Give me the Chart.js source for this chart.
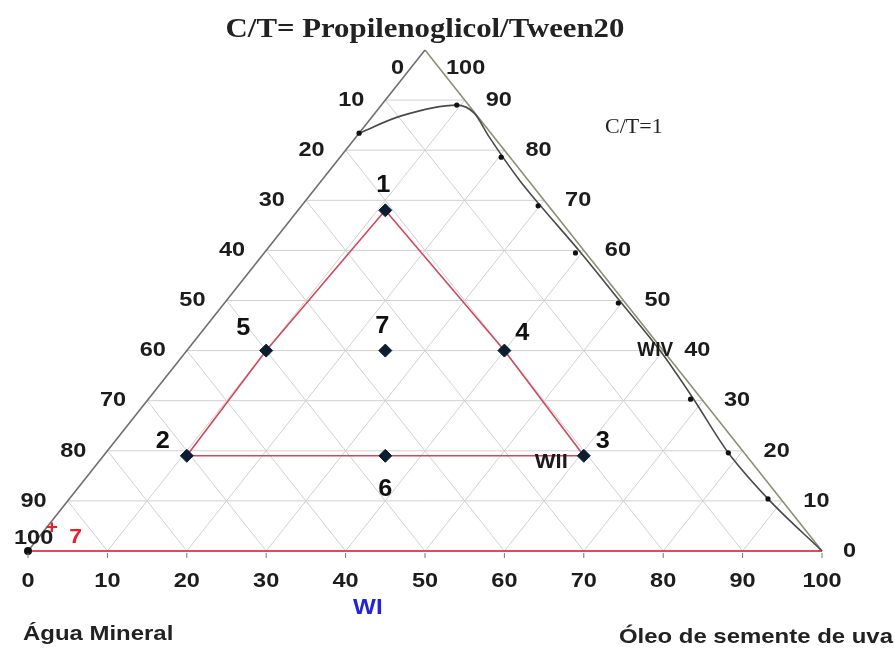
<!doctype html>
<html lang="pt">
<head>
<meta charset="utf-8">
<title>Diagrama ternário - Propilenoglicol/Tween20</title>
<script src="https://cdn.jsdelivr.net/npm/chart.js@4.4.1/dist/chart.umd.min.js"></script>
<style>
  body { margin: 0; background: #fff; }
  #wrap { width: 895px; height: 655px; }
</style>
</head>
<body>
<div id="wrap"><canvas id="ternario" width="895" height="655"></canvas></div>

<script>
// marcas dos eixos (%)
const axisTicks = [0, 10, 20, 30, 40, 50, 60, 70, 80, 90, 100];
const gridSteps = [10, 20, 30, 40, 50, 60, 70, 80, 90];

// formulações 1-7: % de óleo e % de C/T (o resto é água)
const pointLabels = ['1', '2', '3', '4', '5', '6', '7'];
const pointOil = [11, 10.5, 60.5, 40, 10, 35.5, 25];
const pointCt  = [68, 19, 19, 40, 40, 19, 40];
// contorno vermelho 1-5-2-6-3-4-1
const outlineOrder = [0, 4, 1, 5, 2, 3, 0];

// curva de separação para C/T=1
const curveOil = [0, 3.5, 9.5, 12.5, 16.8, 24.9, 30.1, 39.9, 50.0, 59.6, 68.5, 78.4, 88.0, 100];
const curveCt  = [83.4, 86.8, 89.0, 87.4, 82.6, 74.0, 68.9, 59.5, 49.5, 40.0, 30.5, 19.6, 10.4, 0];
// pontos experimentais sobre a curva
const dotOil = [0, 9.5, 20.3, 29.8, 39.2, 49.6, 68.3, 78.4, 88.0];
const dotCt  = [83.4, 89.0, 78.6, 68.9, 59.5, 49.5, 30.3, 19.6, 10.4];

// óleo + C/T -> coordenadas do plano
function tern(oil, ct) {
  return { x: oil + ct / 2, y: ct };
}

function seg(a, b, color, width, order) {
  return {
    data: [a, b], showLine: true, borderColor: color, borderWidth: width,
    pointRadius: 0, clip: false, order: order
  };
}

const datasets = [];

// grade
gridSteps.forEach(k => {
  datasets.push(seg(tern(0, k), tern(100 - k, k), '#d0d0d0', 1, 9));
  datasets.push(seg(tern(k, 0), tern(k, 100 - k), '#d0d0d0', 1, 9));
  datasets.push(seg(tern(100 - k, 0), tern(0, 100 - k), '#d0d0d0', 1, 9));
});

// lados do triângulo
datasets.push(seg(tern(0, 0), tern(0, 100), '#6e6e6e', 1.6, 6));
datasets.push(seg(tern(100, 0), tern(0, 100), '#8e8e78', 1.6, 6));
datasets.push(seg(tern(0, 0), tern(100, 0), '#dc4b5e', 2.2, 5));

// contorno das formulações
datasets.push({
  data: outlineOrder.map(i => tern(pointOil[i], pointCt[i])),
  showLine: true, borderColor: '#cf4a5c', borderWidth: 1.6,
  pointRadius: 0, clip: false, order: 4
});

// curva C/T=1
datasets.push({
  data: curveOil.map((o, i) => tern(o, curveCt[i])),
  showLine: true, borderColor: '#4a4a4a', borderWidth: 1.6,
  cubicInterpolationMode: 'monotone',
  pointRadius: 0, clip: false, order: 3
});
datasets.push({
  data: dotOil.map((o, i) => tern(o, dotCt[i])),
  showLine: false, pointRadius: 2.6, pointBackgroundColor: '#111',
  pointBorderWidth: 0, clip: false, order: 2
});

// vértice da água
datasets.push({
  data: [tern(0, 0)], showLine: false, pointRadius: 4,
  pointBackgroundColor: '#111', pointBorderWidth: 0, clip: false, order: 1
});

// formulações
datasets.push({
  data: pointOil.map((o, i) => tern(o, pointCt[i])),
  showLine: false, pointStyle: 'rectRot', pointRadius: 6.5,
  pointBackgroundColor: '#0c1d30', pointBorderColor: '#0c1d30',
  pointBorderWidth: 1, clip: false, order: 0
});

function text(ctx, s, x, y, font, color, align, sx) {
  ctx.save();
  ctx.translate(x, y);
  ctx.scale(sx, 1);
  ctx.font = font;
  ctx.fillStyle = color;
  ctx.textAlign = align;
  ctx.textBaseline = 'middle';
  ctx.fillText(s, 0, 0);
  ctx.restore();
}

const ternaryText = {
  id: 'ternaryText',
  afterDatasetsDraw(chart) {
    const { ctx, chartArea, scales } = chart;
    const X = (oil, ct) => scales.x.getPixelForValue(oil + ct / 2);
    const Y = ct => scales.y.getPixelForValue(ct);
    const px = v => scales.x.getPixelForValue(v);
    const sans = 'bold 21px "Liberation Sans", Arial, sans-serif';
    const ink = '#1c1c1c';

    // traços da base
    ctx.save();
    ctx.strokeStyle = '#777';
    ctx.lineWidth = 1;
    axisTicks.forEach(k => {
      const x = X(k, 0);
      ctx.beginPath();
      ctx.moveTo(x, Y(0) + 2);
      ctx.lineTo(x, Y(0) + 7);
      ctx.stroke();
    });
    ctx.restore();

    // base: óleo
    axisTicks.forEach(k => text(ctx, String(k), X(k, 0), Y(0) + 30, sans, ink, 'center', 1.12));

    // lado direito: C/T
    axisTicks.forEach(ct => {
      let y = Y(ct);
      if (ct === 100) y += 18;
      text(ctx, String(ct), X(100 - ct, ct) + 21, y, sans, ink, 'left', 1.12);
    });

    // lado esquerdo
    axisTicks.forEach(k => {
      const ct = 100 - k;
      let x = X(0, ct) - 21, y = Y(ct), align = 'right';
      if (k === 0) y += 18;
      if (k === 100) { x = X(0, 0) - 14; y -= 13; align = 'left'; }
      text(ctx, String(k), x, y, sans, ink, align, 1.12);
    });

    // números das formulações
    const offs = [[-2, -25], [-24, -14], [19, -14], [18, -17], [-23, -22], [0, 34], [-3, -24]];
    pointLabels.forEach((s, i) => {
      text(ctx, s, X(pointOil[i], pointCt[i]) + offs[i][0], Y(pointCt[i]) + offs[i][1],
        'bold 23px "Liberation Sans", Arial, sans-serif', '#111', 'center', 1.1);
    });

    // título
    text(ctx, 'C/T= Propilenoglicol/Tween20', (chartArea.left + chartArea.right) / 2, 30,
      'bold 28px "Liberation Serif", "Times New Roman", serif', '#222', 'center', 1.1);
    text(ctx, 'C/T=1', px(76.3), Y(84.4), '20px "Liberation Serif", "Times New Roman", serif', '#222', 'center', 1.1);

    // regiões de Winsor
    text(ctx, 'WIV', px(79.0), Y(40.1), 'bold 20px "Liberation Sans", Arial, sans-serif', '#1a1a1a', 'center', 0.95);
    text(ctx, 'WII', px(65.9), Y(17.6), 'bold 20px "Liberation Sans", Arial, sans-serif', '#1a1a1a', 'center', 1.1);
    text(ctx, 'WI', px(42.8), Y(-11.4), 'bold 22px "Liberation Sans", Arial, sans-serif', '#2424d6', 'center', 1.1);
    text(ctx, '+', px(3.0), Y(4.6), 'bold 19px "Liberation Sans", Arial, sans-serif', '#e8202a', 'center', 1.1);
    text(ctx, '7', px(6.0), Y(2.6), 'bold 20px "Liberation Sans", Arial, sans-serif', '#e8202a', 'center', 1.15);

    // componentes nos vértices
    text(ctx, 'Água Mineral', chartArea.left - 5, Y(0) + 83, 'bold 21px "Liberation Sans", Arial, sans-serif', '#222', 'left', 1.14);
    text(ctx, 'Óleo de semente de uva', chartArea.right + 71, Y(0) + 86, 'bold 21px "Liberation Sans", Arial, sans-serif', '#222', 'right', 1.14);
  }
};

new Chart(document.getElementById('ternario'), {
  type: 'scatter',
  data: { datasets: datasets },
  options: {
    responsive: false,
    animation: false,
    devicePixelRatio: 1,
    layout: { padding: { left: 28, right: 73, top: 50, bottom: 104 } },
    scales: {
      x: { type: 'linear', min: 0, max: 100, display: false },
      y: { type: 'linear', min: 0, max: 100, display: false }
    },
    plugins: {
      legend: { display: false },
      title: { display: false },
      tooltip: { enabled: false }
    }
  },
  plugins: [ternaryText]
});
</script>
</body>
</html>
